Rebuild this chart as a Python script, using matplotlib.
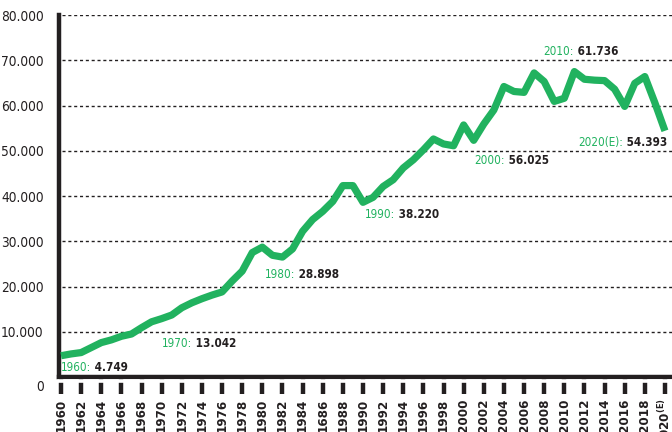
import matplotlib
matplotlib.use("Agg")
import matplotlib.pyplot as plt
import matplotlib.transforms as mtransforms
from matplotlib.lines import Line2D

plt.rcParams['font.family'] = ['DejaVu Sans']
plt.rcParams['font.stretch'] = 'condensed'
plt.rcParams['mathtext.default'] = 'regular'

years = list(range(1960, 2021))
values = [4.7, 5.1, 5.4, 6.5, 7.6, 8.2, 9.0, 9.5, 10.9, 12.2,
          12.9, 13.7, 15.3, 16.4, 17.3, 18.1, 18.8, 21.2, 23.4, 27.5,
          28.7, 26.9, 26.5, 28.3, 32.2, 34.8, 36.6, 38.8, 42.3, 42.3,
          38.6, 39.7, 42.1, 43.6, 46.2, 48.0, 50.2, 52.6, 51.5, 51.1,
          55.7, 52.3, 55.9, 59.0, 64.2, 63.1, 62.9, 67.2, 65.3, 60.9,
          61.6, 67.5, 65.8, 65.6, 65.5, 63.6, 59.8, 64.9, 66.4, 60.6,
          54.4]
values = [v * 1000 for v in values]

xtick_years = list(range(1960, 2021, 2))
xtick_labels = [str(y) for y in xtick_years]
xtick_labels[13] = '1686'
xtick_labels[-1] = '2020$^{(E)}$'

ytick_vals = list(range(0, 80001, 10000))
ytick_labels = ['0', '10.000', '20.000', '30.000', '40.000', '50.000', '60.000', '70.000', '80.000']

ann_years = ['1960:', '1970:', '1980:', '1990:', '2000:', '2010:', '2020(E):']
ann_values = [' 4.749', ' 13.042', ' 28.898', ' 38.220', ' 56.025', ' 61.736', ' 54.393']
ann_pos = [(1960.0, 2100), (1970.0, 7500), (1980.26, 22700), (1990.2, 36000),
           (2001.1, 47800), (2007.9, 72000), (2011.4, 51800)]

GREEN = '#21b25f'
DARK = '#231f20'

fig = plt.figure(figsize=(6.72, 4.32), dpi=100)
ax = fig.add_axes([59/672, (432-377)/432, (672-59)/672, (377-15)/432])

ax.plot(years, values, color=GREEN, lw=5.2, solid_joinstyle='round', solid_capstyle='butt', zorder=3)

ax.set_xlim(1959.8, 2020.7)
ax.set_ylim(0, 80000)

for v in ytick_vals[1:]:
    ax.axhline(v, color=DARK, lw=1.0, ls=(0, (2.2, 2.0)), zorder=1, xmin=0.005)

ax.set_yticks(ytick_vals)
ax.set_yticklabels(ytick_labels, fontsize=9.8, color=DARK)
ax.tick_params(axis='y', length=0, pad=11)
lbl0 = ax.get_yticklabels()[0]
lbl0.set_transform(lbl0.get_transform() + mtransforms.ScaledTranslation(0, -6/72, fig.dpi_scale_trans))

ax.set_xticks(xtick_years)
ax.set_xticklabels(xtick_labels, rotation=90, fontsize=9.5, fontweight='bold', color=DARK)
ax.tick_params(axis='x', length=12.5, width=3.2, color=DARK, pad=3, direction='out')

for s in ['top', 'right']:
    ax.spines[s].set_visible(False)
ax.spines['left'].set_linewidth(3.2)
ax.spines['bottom'].set_linewidth(3.2)
ax.spines['left'].set_color(DARK)
ax.spines['bottom'].set_color(DARK)

# small white gap between the axis line and the tick marks
gap_tr = ax.transAxes + mtransforms.ScaledTranslation(0, -3.8/100, fig.dpi_scale_trans)
ax.add_line(Line2D([0.0, 1.0], [0, 0], transform=gap_tr, color='white', lw=2.6,
                   clip_on=False, zorder=5))

for yr, val, (px, py) in zip(ann_years, ann_values, ann_pos):
    t1 = ax.text(px, py, yr, color=GREEN, fontsize=8.4, va='center', ha='left', zorder=4)
    ax.annotate(val, xy=(1, 0.5), xycoords=t1, va='center', ha='left',
                color=DARK, fontsize=8.4, fontweight='bold', zorder=4)

fig.savefig('out.png', dpi=100)
